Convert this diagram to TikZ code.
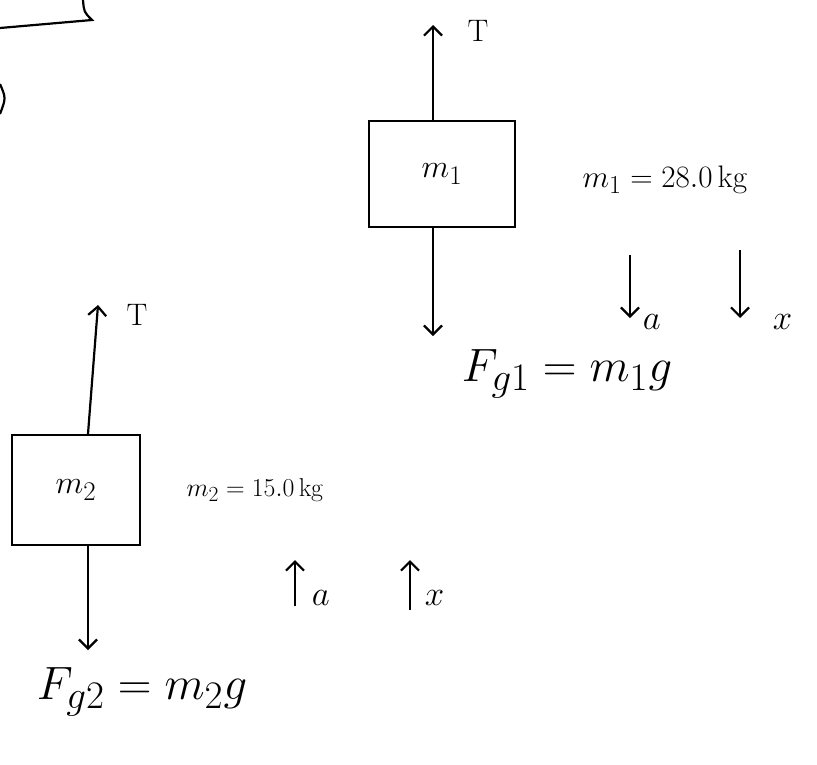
\documentclass[tikz,border=0pt]{standalone}
\usepackage{graphicx}
\usepackage{tikz}
\usetikzlibrary{arrows.meta,positioning}

\begin{document}
\begin{tikzpicture}[
  x=1pt, y=-1pt,
  line width=2.2pt,
  >={Straight Barb[length=9pt,width=18pt]},
  font=\Huge,
  mass/.style={draw, minimum width=146pt, minimum height=106pt, inner sep=0pt},
  force/.style={->},
  big/.style={inner sep=1pt, scale=1.88, transform shape},
  small/.style={inner sep=1pt, scale=1.25, transform shape},
  dir/.style={inner sep=1pt, scale=1.4, transform shape}
]
\useasboundingbox (0,0) rectangle (817,764);

% pieces cut off at the top left
\draw (0,28) -- (92,20) .. controls (84,12) .. (83,0);
\draw (0,84) .. controls (6,98) .. (0,114);

% upper block
\node[mass] (m1) at (442,174) {\scalebox{1.3}{$m_1$}};
\coordinate (t1) at (433,25);
\coordinate (fg1) at (433,336);
\draw[force] (m1.north -| t1) -- (t1);
\draw[force] (m1.south -| fg1) -- (fg1);
\node[small, anchor=west] (t1lab) at ([xshift=32pt,yshift=-6pt]t1) {$\mathrm{T}$};
\node[big] (fg1lab) at (567,374) {$F_{g1}=m_1 g$};
\node[small] (m1val) at (665,180) {$m_1=28.0\,\mathrm{kg}$};

\coordinate (a1s) at (630,255);
\coordinate (a1e) at (630,318);
\coordinate (x1s) at (740,250);
\coordinate (x1e) at (740,318);
\draw[force] (a1s) -- (a1e);
\draw[force] (x1s) -- (x1e);
\node[dir, anchor=west] (a1lab) at ([xshift=10pt,yshift=-4pt]a1e) {$a$};
\node[dir, anchor=west] (x1lab) at ([xshift=30pt,yshift=-4pt]x1e) {$x$};

% lower block
\node[mass, minimum width=128pt, minimum height=110pt] (m2) at (76,490) {\scalebox{1.3}{$m_2$}};
\coordinate (t2) at (98,305);
\coordinate (fg2) at (88,650);
\draw[force] (m2.north -| fg2) -- (t2);
\draw[force] (m2.south -| fg2) -- (fg2);
\node[small, anchor=west] (t2lab) at ([xshift=26pt,yshift=-10pt]t2) {$\mathrm{T}$};
\node[big] (fg2lab) at (142,692) {$F_{g2}=m_2 g$};
\node[small, scale=0.83] (m2val) at (255,490) {$m_2=15.0\,\mathrm{kg}$};

\coordinate (a2s) at (295,606);
\coordinate (a2e) at (295,560);
\coordinate (x2s) at (410,610);
\coordinate (x2e) at (410,560);
\draw[force] (a2s) -- (a2e);
\draw[force] (x2s) -- (x2e);
\node[dir, anchor=west] (a2lab) at ([xshift=14pt,yshift=-38pt]a2e) {$a$};
\node[dir, anchor=west] (x2lab) at ([xshift=12pt,yshift=-38pt]x2e) {$x$};
\end{tikzpicture}
\end{document}
